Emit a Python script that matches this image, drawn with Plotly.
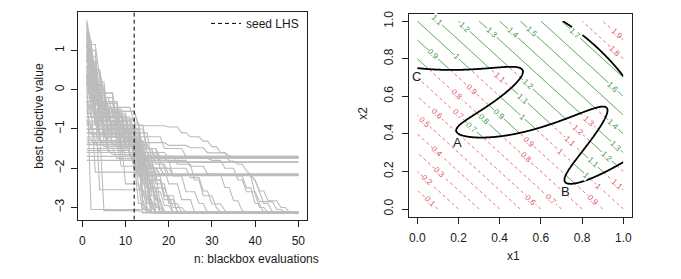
import numpy as np
import plotly.graph_objects as go

# ---------------- data: left panel (best objective value per run) ----------------
N_MAX = 50
SEED_N = 12
X_TICKS_L = [0, 10, 20, 30, 40, 50]
Y_TICKS_L = [-3, -2, -1, 0, 1]
X_RANGE_L = [-0.96, 51.96]
Y_RANGE_L = [-3.31, 1.98]

# each run: (n, new best value) break points; value held until next break, up to n = 50
runs = [
    [(1, 1.78), (2, 1.15), (4, 0.3), (5, -0.09), (8, -1.1), (13, -2.0), (14, -2.6), (15, -3.0), (16, -3.13)],
    [(1, 0.9), (3, 0.2), (6, -0.8), (10, -1.4), (14, -1.9), (16, -2.5), (18, -3.12)],
    [(1, -0.3), (2, -0.7), (7, -1.2), (13, -2.2), (15, -2.9), (17, -3.14)],
    [(1, 1.3), (2, 0.6), (3, -0.2), (5, -0.6), (9, -1.5), (15, -2.3), (17, -2.8), (19, -3.1), (20, -3.13)],
    [(1, 0.4), (2, -3.05), (16, -3.12)],
    [(1, -0.6), (4, -1.0), (5, -3.08), (14, -3.13)],
    [(1, 0.1), (3, -0.5), (4, -1.3), (11, -1.7), (13, -2.4), (14, -3.14)],
    [(1, 1.5), (2, 0.8), (3, 0.4), (4, -0.3), (6, -1.0), (12, -1.6), (14, -2.1), (17, -2.6), (19, -2.95), (21, -3.13)],
    [(1, -1.1), (6, -1.5), (13, -1.9), (16, -2.7), (18, -3.12)],
    [(1, 0.6), (2, 0.0), (4, -0.8), (8, -1.3), (14, -2.0), (15, -2.5), (20, -2.8), (22, -3.14)],
    [(1, -0.2), (5, -0.9), (9, -1.8), (13, -2.9), (15, -3.13)],
    [(1, 1.0), (2, 0.3), (3, -0.4), (7, -1.1), (12, -1.3), (13, -1.8), (15, -2.2), (16, -2.9), (18, -3.12)],
    [(1, -0.9), (3, -1.3), (10, -2.4), (14, -2.7), (16, -3.14)],
    [(1, 0.2), (2, -0.4), (4, -2.55), (15, -2.8), (17, -3.13)],
    [(1, -1.5), (8, -1.75), (13, -2.2), (17, -3.0), (19, -3.12)],
    [(1, 0.7), (3, -0.3), (5, -0.7), (9, -1.2), (13, -1.5), (15, -2.0), (17, -2.4), (20, -2.9), (23, -3.14)],
    [(1, -0.5), (2, -1.0), (6, -1.6), (14, -2.3), (16, -3.13)],
    [(1, 1.2), (2, 0.1), (5, -0.9), (11, -1.4), (14, -2.6), (16, -3.0), (17, -3.12)],
    [(1, -1.3), (4, -1.6), (12, -2.0), (15, -2.5), (18, -3.14)],
    [(1, 0.5), (4, -0.6), (6, -1.1), (13, -1.6), (15, -2.3), (19, -2.7), (21, -3.0), (24, -3.13)],
    [(1, -0.1), (3, -0.8), (12, -1.9), (14, -2.8), (15, -3.12)],
    [(1, 0.9), (2, -0.5), (8, -1.45), (15, -2.1), (18, -2.9), (19, -3.14)],
    [(1, 0.3), (3, -0.7), (9, -1.3), (14, -1.8), (17, -2.17), (39, -2.2), (40, -2.66), (41, -3.0), (43, -3.13)],
    [(1, -0.4), (5, -1.2), (13, -1.7), (16, -2.0), (19, -2.18), (40, -2.3), (41, -2.6), (42, -2.9), (44, -3.12)],
    [(1, 0.8), (2, 0.2), (4, -0.6), (10, -1.2), (14, -1.35), (20, -1.42), (25, -1.48), (29, -1.61), (34, -1.82),
     (36, -1.9), (38, -2.07), (39, -2.17), (40, -2.32), (41, -2.58), (43, -2.83), (46, -3.0), (48, -3.13)],
    [(1, -0.7), (4, -1.1), (12, -1.5), (15, -1.8), (19, -2.0), (25, -2.24), (28, -2.58), (30, -2.91), (33, -3.08), (34, -3.14)],
    [(1, 0.0), (3, -0.9), (13, -1.6), (18, -1.8), (25, -1.95), (29, -2.15), (33, -2.49), (35, -2.83), (37, -3.08), (38, -3.13)],
    [(1, 1.1), (2, 0.4), (5, -0.8), (11, -1.3), (14, -1.7), (22, -1.9), (26, -2.3), (28, -2.7), (31, -3.0), (32, -3.12)],
    [(1, -1.0), (7, -1.4), (14, -1.9), (17, -2.16), (36, -2.2), (38, -2.5), (40, -2.9), (42, -3.14)],
    [(1, 0.6), (3, -0.2), (8, -1.0), (15, -1.6), (20, -1.75), (30, -1.8), (33, -2.0), (36, -2.3), (38, -2.6),
     (41, -2.85), (45, -3.05), (47, -3.13)],
    [(1, -0.3), (6, -1.3), (14, -2.0), (20, -2.4), (23, -2.8), (26, -3.12)],
    [(1, 0.4), (4, -0.5), (10, -1.1), (16, -1.8), (21, -2.2), (24, -2.6), (27, -2.9), (29, -3.14)],
    [(1, 1.6), (2, 0.9), (3, 0.5), (5, -0.5), (9, -1.0), (14, -1.6), (16, -2.0), (18, -2.17)],
    [(1, -0.8), (4, -1.2), (13, -1.9), (15, -2.15)],
    [(1, 0.2), (3, -0.6), (11, -1.7), (14, -2.18)],
    [(1, -1.6), (12, -1.8), (16, -2.16)],
    [(1, 0.5), (2, -0.2), (6, -1.3), (13, -1.5), (17, -1.9), (20, -2.17)],
    [(1, -0.4), (3, -2.1), (13, -2.19)],
    [(1, 1.0), (4, -0.4), (7, -1.0), (14, -1.8), (17, -2.15)],
    [(1, -1.2), (5, -1.45), (15, -2.17)],
    [(1, 0.3), (2, -0.3), (9, -1.6), (14, -2.0), (19, -2.18)],
    [(1, -0.6), (8, -1.3), (13, -2.16)],
    [(1, 0.8), (3, 0.0), (5, -0.55), (13, -0.9), (15, -1.5), (18, -2.0), (21, -2.17)],
    [(1, -1.8), (14, -2.18)],
    [(1, 0.1), (4, -0.7), (10, -1.3), (15, -1.85)],
    [(1, -1.0), (9, -1.5), (17, -1.75), (20, -1.84)],
    [(1, 1.4), (2, 0.7), (4, -0.55), (13, -0.92), (20, -0.95), (23, -1.1), (25, -1.2), (28, -1.31), (30, -1.45),
     (32, -1.6), (34, -1.68), (35, -1.72)],
    [(1, -0.2), (3, -0.8), (9, -1.2), (14, -1.72)],
    [(1, 0.6), (2, 0.0), (6, -1.0), (13, -1.4), (16, -1.70)],
    [(1, -1.4), (13, -1.73)],
    [(1, 0.9), (2, 0.5), (5, -0.08), (8, -0.9), (14, -1.5), (18, -1.72)],
    [(1, -0.7), (5, -1.1), (14, -1.74)],
    [(1, 0.3), (4, -0.8), (12, -1.3), (15, -1.6), (17, -1.71)],
    [(1, -1.7), (13, -1.72)],
    [(1, 1.2), (2, 0.5), (4, -0.3), (8, -1.0), (14, -1.6), (16, -1.73)],
    [(1, -0.5), (7, -1.2), (13, -1.70)],
    [(1, 0.0), (3, -0.6), (10, -1.5), (14, -1.74)],
    [(1, -0.9), (12, -1.72)],
    [(1, 0.7), (3, -0.4), (6, -0.8), (13, -1.2), (19, -1.5), (24, -1.71)],
    [(1, -1.1), (4, -1.3), (14, -1.73)],
    [(1, 1.7), (2, 1.0), (3, 0.6), (4, 0.1), (6, -0.7), (10, -1.2), (13, -1.6), (14, -2.16)],
    [(1, 1.1), (2, 0.8), (3, -0.3), (9, -1.05), (13, -1.72)],
    [(1, 0.4), (2, 0.1), (3, -0.9), (7, -1.35), (13, -1.9), (15, -2.5), (16, -3.12)],
    [(1, -0.85), (6, -1.55), (14, -1.85)],
    [(1, 1.45), (2, 0.3), (4, -0.7), (11, -1.0), (13, -1.5), (14, -1.72)],
    [(1, 0.25), (4, -1.15), (12, -1.65), (14, -2.0), (16, -2.6), (18, -3.13)],
    [(1, -1.25), (3, -1.4), (9, -1.95), (13, -2.17)],
    [(1, 0.75), (2, 0.35), (3, 0.05), (5, -0.65), (8, -1.25), (14, -1.72)],
    [(1, -0.15), (2, -0.55), (5, -1.05), (12, -1.75), (14, -2.4), (16, -2.9), (17, -3.14)],
    [(1, 1.25), (3, 0.15), (4, -0.35), (9, -0.75), (13, -1.72)],
    [(1, -0.45), (4, -0.95), (10, -1.55), (15, -2.17)],
    [(1, 0.95), (2, 0.65), (4, -0.1), (6, -0.45), (12, -0.85), (14, -1.6), (16, -2.2), (19, -2.7), (22, -3.13)],
    [(1, -1.55), (7, -1.65), (14, -3.0), (15, -3.13)],
    [(1, 0.55), (3, -0.25), (5, -1.35), (13, -1.72)],
    [(1, -0.05), (3, -0.35), (8, -0.65), (11, -1.25), (14, -2.17)],
    [(1, 1.65), (2, 1.2), (3, 0.0), (5, -1.2), (13, -1.6), (15, -2.3), (17, -3.13)],
    [(1, -0.75), (2, -1.15), (11, -1.45), (14, -2.0), (18, -2.17)],
    [(1, 0.15), (2, -0.15), (6, -0.7), (12, -1.1), (13, -1.72)],
    [(1, -1.35), (10, -1.7), (15, -3.12)],
    [(1, 0.85), (4, -0.2), (7, -0.6), (10, -1.1), (14, -1.7), (17, -2.3), (19, -2.8), (21, -3.13)],
]

# ---------------- data: right panel (toy constrained problem) ----------------
GRID = np.linspace(0.0, 1.0, 401)
LEVEL_START, LEVEL_END, LEVEL_STEP = 0.1, 1.9, 0.1
X_TICKS_R = [0.0, 0.2, 0.4, 0.6, 0.8, 1.0]
POINT_LABELS = ["A", "B", "C"]
POINT_X1 = [0.195, 0.718, -0.003]
POINT_X2 = [0.345, 0.085, 0.697]

# contour labels (level, x1 position along the contour line)
GREEN_LABEL_LEVELS = [1.1, 1.2, 1.3, 1.4, 1.5, 1.7, 0.9, 1.0, 1.6, 1.2, 1.1, 1.0, 0.9, 0.8, 0.7, 1.4, 1.3, 1.2, 1.1, 1.0]
GREEN_LABEL_X1 = [0.097, 0.232, 0.361, 0.463, 0.555, 0.766, 0.078, 0.19, 0.951, 0.539, 0.515, 0.512, 0.398,
                  0.324, 0.264, 0.951, 0.965, 0.919, 0.854, 0.819]
RED_LABEL_LEVELS = [0.9, 0.8, 0.7, 0.6, 0.5, 0.4, 0.3, 0.2, 0.1, 1.1, 0.9, 0.8, 0.6, 0.7, 0.9, 1.3, 1.2, 1.1, 1.0,
                    1.0, 1.1, 1.9, 1.8]
RED_LABEL_X1 = [0.264, 0.191, 0.199, 0.094, 0.037, 0.094, 0.107, 0.049, 0.062, 0.40, 0.544, 0.528, 0.552, 0.649,
                0.854, 0.833, 0.782, 0.741, 0.693, 0.879, 0.97, 0.968, 0.96]

X1, X2 = np.meshgrid(GRID, GRID)
obj = X1 + X2
c1 = 1.5 - X1 - 2 * X2 - 0.5 * np.sin(2 * np.pi * (X1 ** 2 - 2 * X2))
c2 = X1 ** 2 + X2 ** 2 - 1.5
feasible = (c1 <= 0) & (c2 <= 0)
z_green = np.where(feasible, obj, np.nan)
z_red = np.where(feasible, np.nan, obj)

GRAY = "rgb(188,188,188)"
GREEN = "#3c963c"
RED = "#e2505e"
FONT = "Liberation Sans, Arial, sans-serif"
TXT = "#1a1a1a"

fig = go.Figure()


def expand(run):
    xs, ys = [run[0][0]], [run[0][1]]
    for n, v in run[1:]:
        xs += [n - 1, n]
        ys += [ys[-1], v]
    if xs[-1] < N_MAX:
        xs.append(N_MAX)
        ys.append(ys[-1])
    return xs, ys


for run in runs:
    xs, ys = expand(run)
    fig.add_trace(go.Scatter(x=xs, y=ys, mode="lines", line=dict(color=GRAY, width=1.1),
                             showlegend=False, hoverinfo="skip", xaxis="x", yaxis="y"))

fig.add_trace(go.Scatter(x=[SEED_N, SEED_N], y=Y_RANGE_L, mode="lines", name="seed LHS",
                         line=dict(color="black", width=1, dash="4px,3px"), showlegend=True,
                         xaxis="x", yaxis="y"))

# right panel contours
for z, col, dash in ((z_green, GREEN, "solid"), (z_red, RED, "3px,3px")):
    fig.add_trace(go.Contour(x=GRID, y=GRID, z=z, xaxis="x2", yaxis="y2",
                             contours=dict(start=LEVEL_START, end=LEVEL_END, size=LEVEL_STEP, coloring="lines",
                                           showlabels=False),
                             colorscale=[[0, col], [1, col]], showscale=False,
                             line=dict(width=1, dash=dash), hoverinfo="skip", showlegend=False))

for cz in (c1, c2):
    fig.add_trace(go.Contour(x=GRID, y=GRID, z=cz, xaxis="x2", yaxis="y2",
                             contours=dict(start=0, end=0, size=1, coloring="lines", showlabels=False),
                             colorscale=[[0, "black"], [1, "black"]], showscale=False,
                             line=dict(width=1.8), hoverinfo="skip", showlegend=False))

fig.add_trace(go.Scatter(x=POINT_X1, y=POINT_X2, mode="text", text=POINT_LABELS,
                         textfont=dict(size=13, color=TXT, family=FONT), textposition="middle center",
                         xaxis="x2", yaxis="y2", showlegend=False, hoverinfo="skip"))

W, H = 681, 279


def px_x(p):
    return p / W


def px_y(p):
    return 1 - p / H


# angle of the contour lines on screen (slope -1 in data units)
r_w = (631.6 - 409) / 1.08
r_h = (215.9 - 10.7) / 1.08
LABEL_ANGLE = float(np.degrees(np.arctan2(r_h, r_w)))

annotations = []
for levels, xs1, col in ((GREEN_LABEL_LEVELS, GREEN_LABEL_X1, GREEN), (RED_LABEL_LEVELS, RED_LABEL_X1, RED)):
    for lvl, a in zip(levels, xs1):
        annotations.append(dict(text=f"{lvl:g}", x=a, y=lvl - a, xref="x2", yref="y2", showarrow=False,
                                textangle=LABEL_ANGLE, bgcolor="white", borderpad=0,
                                font=dict(size=8, color=col, family=FONT)))

axis_common = dict(showline=True, mirror=True, linecolor="#222", linewidth=1, ticks="outside",
                   ticklen=6, tickcolor="#222", showgrid=False, zeroline=False,
                   tickfont=dict(size=12, color=TXT, family=FONT))

annotations += [
    dict(text="best objective value", x=px_x(30), y=px_y(114), xref="paper", yref="paper",
         showarrow=False, textangle=-90, font=dict(size=12, color=TXT)),
    dict(text="n: blackbox evaluations", x=px_x(191.5), y=px_y(268), xref="paper", yref="paper",
         showarrow=False, font=dict(size=12, color=TXT)),
    dict(text="x2", x=px_x(363), y=px_y(112), xref="paper", yref="paper",
         showarrow=False, textangle=-90, font=dict(size=12, color=TXT)),
    dict(text="x1", x=px_x(521.5), y=px_y(265), xref="paper", yref="paper",
         showarrow=False, font=dict(size=12, color=TXT)),
]

fig.update_layout(
    width=W, height=H, margin=dict(l=0, r=0, t=0, b=0),
    paper_bgcolor="white", plot_bgcolor="white",
    font=dict(family=FONT, size=12, color=TXT),
    xaxis=dict(domain=[px_x(78.2), px_x(306.8)], range=X_RANGE_L, tickvals=X_TICKS_L, anchor="y",
               ticklabelstandoff=4, **axis_common),
    yaxis=dict(domain=[px_y(219), px_y(9)], range=Y_RANGE_L, tickvals=Y_TICKS_L, tickangle=-90, anchor="x",
               ticklabelstandoff=2, **axis_common),
    xaxis2=dict(domain=[px_x(409), px_x(631.6)], range=[-0.04, 1.04], tickvals=X_TICKS_R, tickformat=".1f",
                anchor="y2", ticklabelstandoff=4, **axis_common),
    yaxis2=dict(domain=[px_y(215.9), px_y(10.7)], range=[-0.04, 1.04], tickvals=X_TICKS_R, tickformat=".1f",
                tickangle=-90, anchor="x2", ticklabelstandoff=4, **axis_common),
    legend=dict(x=px_x(304), y=px_y(6), xanchor="right", yanchor="top", bgcolor="rgba(0,0,0,0)",
                font=dict(size=12, color=TXT, family=FONT), itemwidth=30),
    annotations=annotations,
)

fig.write_html("out.html")
